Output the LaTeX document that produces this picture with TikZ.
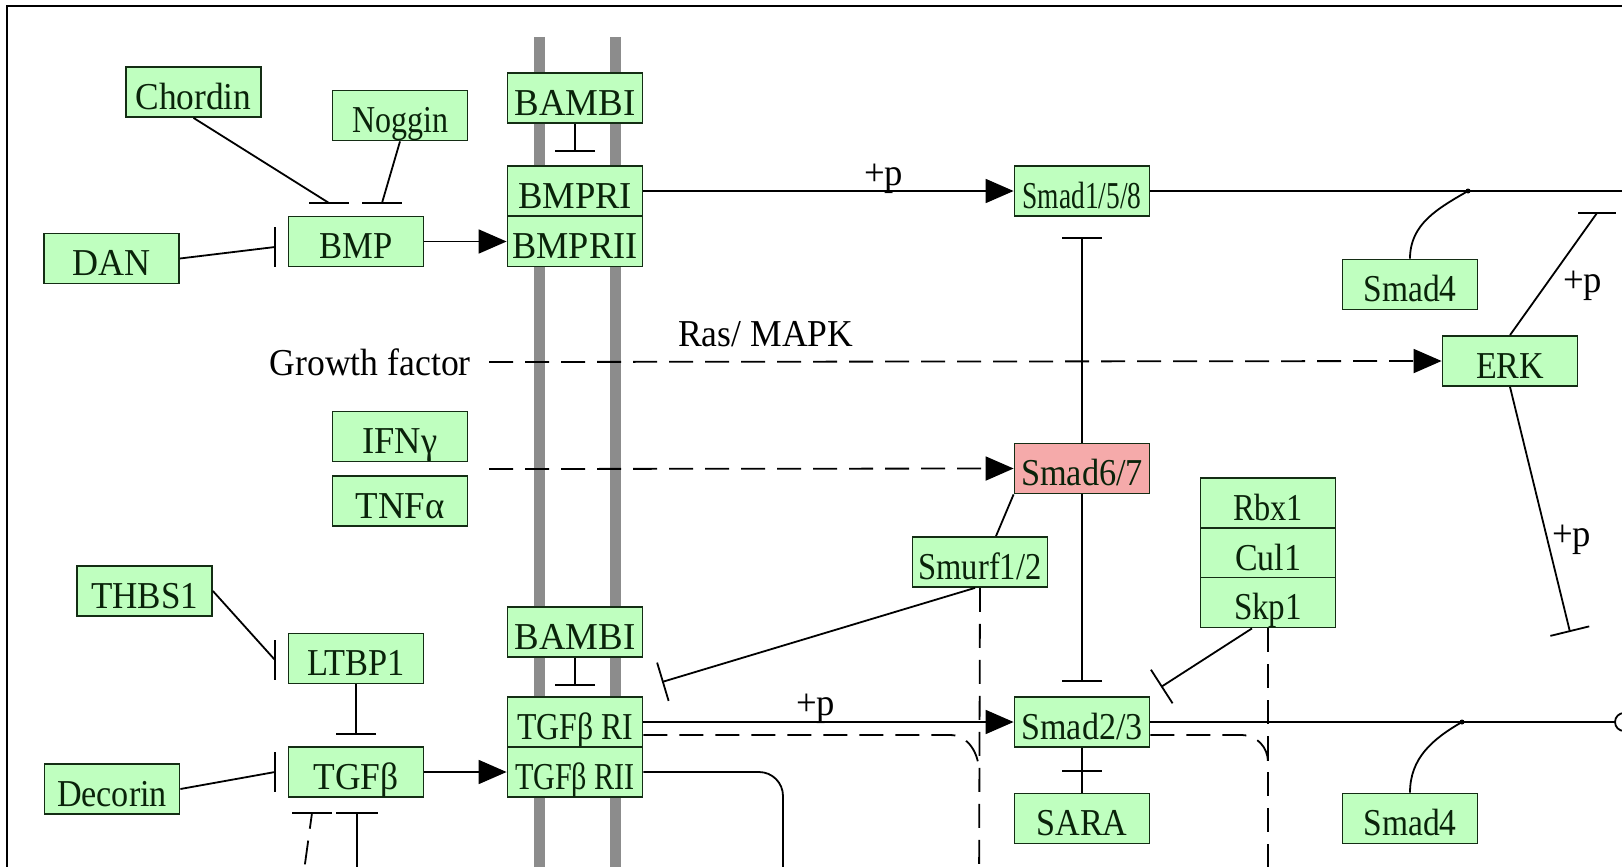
\documentclass[tikz,border=0pt]{standalone}
\usepackage{fontspec}
\setmainfont{Liberation Serif}
\usepackage{graphicx}
\usetikzlibrary{arrows.meta,calc}
\definecolor{kgreen}{RGB}{191,255,191}
\definecolor{kpink}{RGB}{245,170,170}
\definecolor{boxline}{RGB}{20,45,20}
\definecolor{txt}{RGB}{10,35,10}
\definecolor{membgray}{RGB}{140,140,140}
\newlength\fitlen
\newcommand\fitw[2]{\settowidth{\fitlen}{#2}\pgfmathsetmacro\fitsx{#1/\fitlen}\scalebox{\fitsx}[1]{#2}}
\newcommand\genefont{\fontsize{38}{40}\selectfont}
\tikzset{
  gene/.style={draw=boxline, line width=1.8pt, fill=kgreen, minimum width=135pt, minimum height=50pt,
    inner sep=0pt, text height=34pt, text depth=0pt, font=\genefont, text=txt},
  pinkgene/.style={gene, fill=kpink},
  conn/.style={line width=1.8pt, draw=black},
  dsh/.style={conn, dash pattern=on 24pt off 12pt},
  act/.style={-{Triangle[length=28pt,width=24pt]}},
  inh/.style={-{Bar[width=40pt]}},
  memb/.style={line width=11pt, draw=membgray},
  lbl/.style={inner sep=0pt, font=\genefont, text=black, anchor=base west},
}
\begin{document}
\begin{tikzpicture}[x=1pt,y=-1pt]
\useasboundingbox (0,0) rectangle (1622,867);
\clip (0,0) rectangle (1622,867);
\fill[white] (0,0) rectangle (1622,867);
\draw[line width=2.5pt] (7,6) rectangle (1700,950);

% membranes
\draw[memb] (539,37) -- (539,900);
\draw[memb] (615,37) -- (615,900);

% genes
\node[gene] (Chordin) at (193.5,92) {\fitw{116}{Chordin}};
\node[gene] (Noggin) at (400,115.5) {\fitw{96}{Noggin}};
\node[gene] (BAMBIa) at (575,98) {\fitw{121}{BAMBI}};
\node[gene] (BMPRI) at (575,191) {\fitw{114}{BMPRI}};
\node[gene] (BMPRII) at (575,241.5) {\fitw{125}{BMPRII}};
\node[gene] (BMP) at (356,241.5) {\fitw{73}{BMP}};
\node[gene] (DAN) at (111.5,258.5) {\fitw{78}{DAN}};
\node[gene] (Smad158) at (1082,191) {\fitw{119}{Smad1/5/8}};
\node[gene] (Smad4u) at (1410,284.5) {\fitw{93}{Smad4}};
\node[gene] (ERK) at (1510,361) {\fitw{68}{ERK}};
\node[gene] (IFN) at (400,436.5) {\fitw{75}{IFNγ}};
\node[gene] (TNF) at (400,501) {\fitw{89}{TNFα}};
\node[pinkgene] (Smad67) at (1082,468.5) {\fitw{122}{Smad6/7}};
\node[gene] (Smurf) at (980,562) {\fitw{123}{Smurf1/2}};
\node[gene] (Rbx1) at (1268,503) {\fitw{70}{Rbx1}};
\node[gene] (Cul1) at (1268,553) {\fitw{66}{Cul1}};
\node[gene] (Skp1) at (1268,602.5) {\fitw{68}{Skp1}};
\node[gene] (THBS1) at (144.5,591) {\fitw{107}{THBS1}};
\node[gene] (LTBP1) at (356,658.5) {\fitw{98}{LTBP1}};
\node[gene] (BAMBIb) at (575,632) {\fitw{121}{BAMBI}};
\node[gene] (TGFbRI) at (575,722) {\fitw{116}{TGFβ RI}};
\node[gene] (TGFbRII) at (575,772) {\fitw{120}{TGFβ RII}};
\node[gene] (TGFb) at (356,772) {\fitw{85}{TGFβ}};
\node[gene] (Decorin) at (112,789) {\fitw{110}{Decorin}};
\node[gene] (Smad23) at (1082,722) {\fitw{121}{Smad2/3}};
\node[gene] (SARA) at (1082,818.5) {\fitw{91}{SARA}};
\node[gene] (Smad4l) at (1410,818.5) {\fitw{93}{Smad4}};

% free labels
\node[lbl, anchor=base east] (gf) at (471,375) {\fitw{201}{Growth factor}};
\node[lbl] (ras) at (678,346) {\fitw{175}{Ras/ MAPK}};
\node[lbl] (p1) at (864,185) {\fitw{39}{+p}};
\node[lbl] (p2) at (1563,292) {\fitw{39}{+p}};
\node[lbl] (p3) at (1552,546) {\fitw{39}{+p}};
\node[lbl] (p4) at (796,715) {\fitw{39}{+p}};

% coordinates
\coordinate (chI) at (329,203);
\coordinate (noI) at (382,203);
\coordinate (baI) at (575,152);
\coordinate (danI) at (275,247);
\coordinate (s158R) at (1660,191);
\coordinate (j1) at (1468,191);
\coordinate (erkI1) at (1597,213);
\coordinate (gfS) at (489,362);
\coordinate (ifS) at (489,469);
\coordinate (s67I1) at (1082,237);
\coordinate (s67I2) at (1082,682);
\coordinate (smI) at (662,682);
\coordinate (smB) at (979,900);
\coordinate (s23R) at (1660,722);
\coordinate (j2) at (1462,722);
\coordinate (skI) at (1161,687);
\coordinate (skB) at (1268,900);
\coordinate (erkI2) at (1570,632);
\coordinate (thI) at (275,660);
\coordinate (ltI) at (356,735);
\coordinate (ba2I) at (575,686);
\coordinate (deI) at (275,772);
\coordinate (tb1) at (312,813);
\coordinate (tb1e) at (300,900);
\coordinate (tb2) at (357,813);
\coordinate (tb2e) at (357,900);
\coordinate (rIIc) at (783,900);
\coordinate (sara) at (1082,771);

% BMP branch
\draw[conn] (Chordin.south) -- (chI);
\draw[conn] ($(chI)+(-20,0)$) -- ($(chI)+(20,0)$);
\draw[conn] (Noggin.south) -- (noI);
\draw[conn] ($(noI)+(-20,0)$) -- ($(noI)+(20,0)$);
\draw[conn, inh] (BAMBIa.south) -- (baI);
\draw[conn] (DAN.east) -- (danI);
\draw[conn] ($(danI)+(0,-20)$) -- ($(danI)+(0,20)$);
\draw[conn, act] (BMP.east) -- (BMPRII.west);
\draw[conn, act] (BMPRI.east) -- (Smad158.west);
\draw[conn] (Smad158.east) -- (s158R);
\draw[conn] (Smad4u.north) to[out=90,in=210] (j1);
\fill (j1) circle (2.5);
\draw[conn] (ERK.north) -- (erkI1);
\draw[conn] ($(erkI1)+(-19,0)$) -- ($(erkI1)+(19,0)$);
\draw[conn, inh] (ERK.south) -- (erkI2);

% growth factor / IFN
\draw[dsh, act] (gfS) -- (ERK.west);
\draw[dsh, act] (ifS) -- (Smad67.west);
\draw[conn, inh] (Smad67.north) -- (s67I1);
\draw[conn, inh] (Smad67.south) -- (s67I2);
\draw[conn] (Smad67.south west) -- ($(Smurf.north)+(16,0)$);
\draw[conn, inh] ($(Smurf.south)+(-5,0)$) -- (smI);
\draw[dsh] (Smurf.south) -- (smB);

% TGF branch
\draw[conn] (THBS1.east) -- (thI);
\draw[conn] ($(thI)+(0,-20)$) -- ($(thI)+(0,20)$);
\draw[conn, inh] (LTBP1.south) -- (ltI);
\draw[conn, inh] (BAMBIb.south) -- (ba2I);
\draw[conn] (Decorin.east) -- (deI);
\draw[conn] ($(deI)+(0,-20)$) -- ($(deI)+(0,20)$);
\draw[conn, act] (TGFb.east) -- (TGFbRII.west);
\draw[dsh] (tb1e) -- (tb1);
\draw[conn] ($(tb1)+(-20,0)$) -- ($(tb1)+(20,0)$);
\draw[conn] (tb2e) -- (tb2);
\draw[conn] ($(tb2)+(-21,0)$) -- ($(tb2)+(21,0)$);
\draw[conn, rounded corners=24pt] (TGFbRII.east) -- (783,772) -- (rIIc);

\draw[conn, act] (TGFbRI.east) -- (Smad23.west);
\draw[dsh] ($(TGFbRI.east)+(0,13)$) -- (950,735) to[out=0,in=90] (979,772);
\draw[conn] (Smad23.east) -- (s23R);
\draw[dsh] ($(Smad23.east)+(0,13)$) -- (1242,735) to[out=0,in=90] (1268,762);
\draw[conn, inh] ($(Skp1.south)+(-16,0)$) -- (skI);
\draw[dsh] (Skp1.south) -- (skB);
\draw[conn] (Smad23.south) -- (SARA.north);
\draw[conn] ($(sara)+(-20,0)$) -- ($(sara)+(20,0)$);
\draw[conn] (Smad4l.north) to[out=90,in=210] (j2);
\fill (j2) circle (2.5);
\draw[conn, fill=white] (1624,722) circle (9);
\end{tikzpicture}
\end{document}
